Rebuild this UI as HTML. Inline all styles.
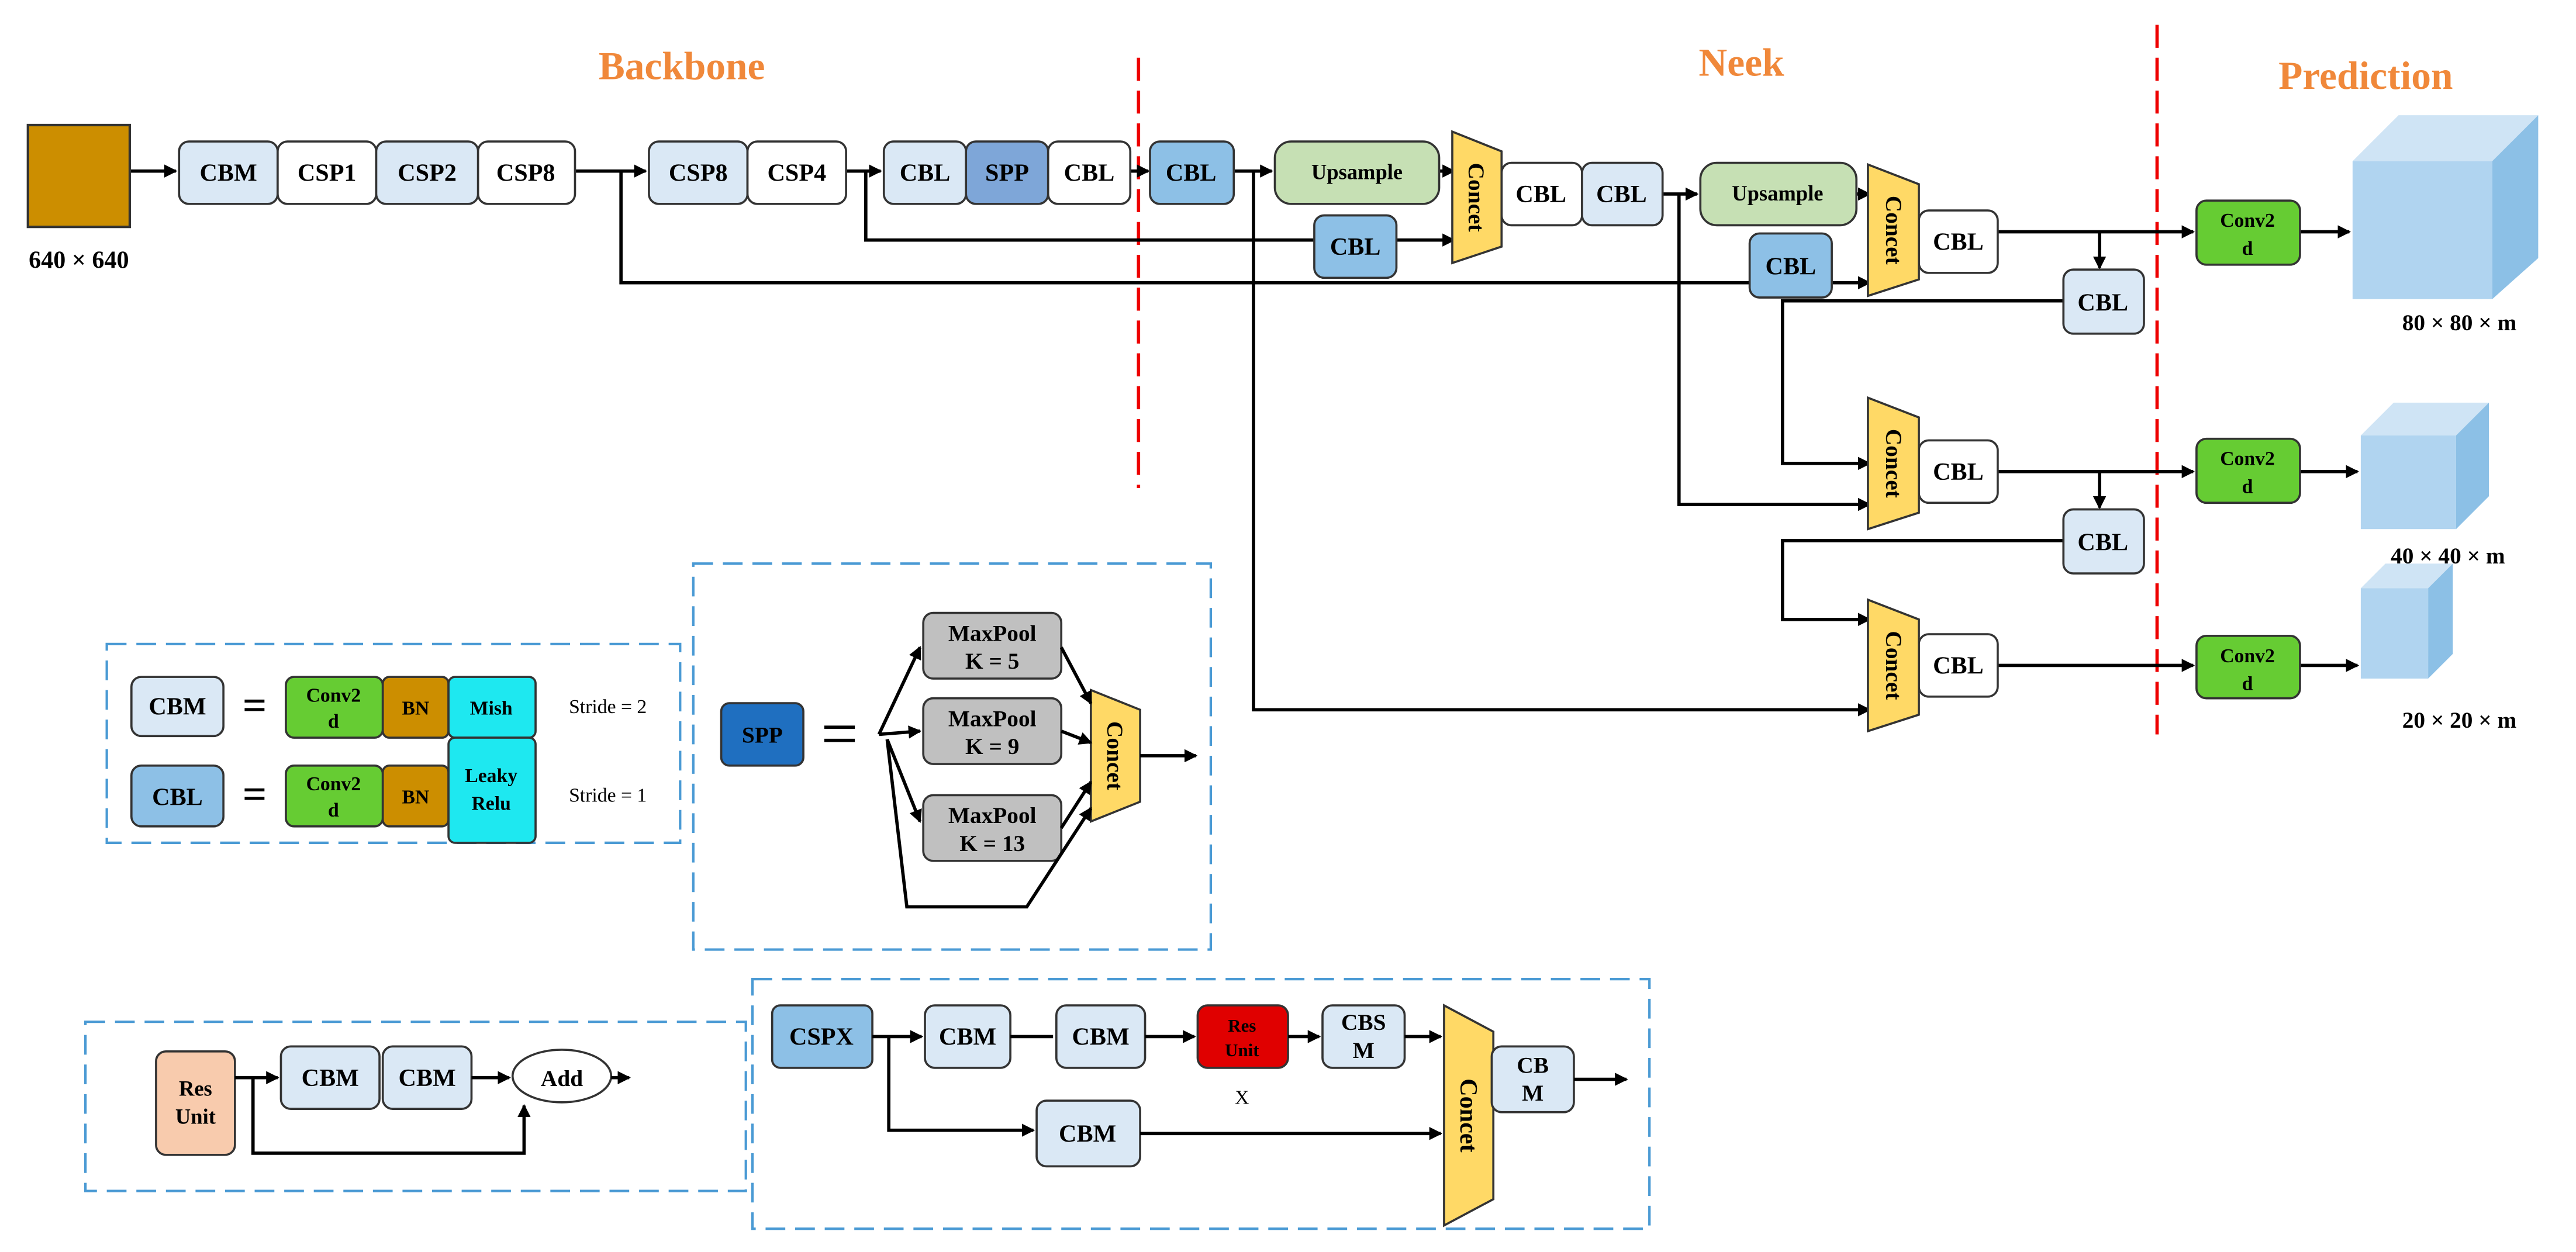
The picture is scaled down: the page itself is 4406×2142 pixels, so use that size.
<!DOCTYPE html>
<html><head><meta charset="utf-8"><style>html,body{margin:0;padding:0;background:#fff}svg{display:block}</style></head>
<body>
<svg width="4406" height="2142" viewBox="0 0 1568 762" xmlns="http://www.w3.org/2000/svg" font-family="Liberation Serif, serif" font-weight="bold">
<defs>
<marker id="a" markerWidth="8" markerHeight="8" refX="7" refY="4" orient="auto" markerUnits="userSpaceOnUse"><path d="M0,0 L8,4 L0,8 z" fill="#000"/></marker>
</defs>
<rect width="1568" height="762" fill="#fff"/>
<g font-size="24" fill="#f0883a" text-anchor="middle">
<text x="415" y="48">Backbone</text><text x="1060" y="46">Neek</text><text x="1440" y="54">Prediction</text></g>
<g stroke="#e00" stroke-width="2" stroke-dasharray="14,6"><line x1="693" y1="35" x2="693" y2="297"/><line x1="1313" y1="15" x2="1313" y2="447"/></g>

<g stroke="#000" stroke-width="2" fill="none">
<line x1="79" y1="104" x2="107" y2="104" marker-end="url(#a)"/>
<line x1="350" y1="104" x2="393" y2="104" marker-end="url(#a)"/>
<line x1="515" y1="104" x2="536" y2="104" marker-end="url(#a)"/>
<line x1="688" y1="104" x2="699" y2="104" marker-end="url(#a)"/>
<line x1="751" y1="104" x2="774" y2="104" marker-end="url(#a)"/>
<line x1="876" y1="104" x2="885" y2="104" marker-end="url(#a)"/>
<polyline points="527,104 527,146 800,146"/>
<line x1="850" y1="146" x2="885" y2="146" marker-end="url(#a)"/>
<polyline points="378,104 378,172 1065,172"/>
<line x1="1115" y1="172" x2="1138" y2="172" marker-end="url(#a)"/>
<polyline points="763,104 763,432 1138,432" marker-end="url(#a)"/>
<line x1="1012" y1="118" x2="1033" y2="118" marker-end="url(#a)"/>
<line x1="1130" y1="118" x2="1138" y2="118" marker-end="url(#a)"/>
<polyline points="1022,118 1022,307 1138,307" marker-end="url(#a)"/>
<line x1="1216" y1="141" x2="1335" y2="141" marker-end="url(#a)"/>
<line x1="1278" y1="141" x2="1278" y2="163" marker-end="url(#a)"/>
<polyline points="1256,183 1085,183 1085,282 1138,282" marker-end="url(#a)"/>
<line x1="1216" y1="287" x2="1335" y2="287" marker-end="url(#a)"/>
<line x1="1278" y1="287" x2="1278" y2="309" marker-end="url(#a)"/>
<polyline points="1256,329 1085,329 1085,377 1138,377" marker-end="url(#a)"/>
<line x1="1216" y1="405" x2="1335" y2="405" marker-end="url(#a)"/>
<line x1="1400" y1="141" x2="1430" y2="141" marker-end="url(#a)"/>
<line x1="1400" y1="287" x2="1435" y2="287" marker-end="url(#a)"/>
<line x1="1400" y1="405" x2="1435" y2="405" marker-end="url(#a)"/>
</g>

<rect x="17" y="76" width="62" height="62" fill="#cc8e00" stroke="#333" stroke-width="1.5"/>
<text x="48" y="163" font-size="15" text-anchor="middle">640 × 640</text>

<g stroke="#333" stroke-width="1.3" font-size="15" text-anchor="middle">
<rect x="109" y="86" width="60" height="38" rx="6" fill="#dae8f5"/>
<rect x="169" y="86" width="60" height="38" rx="6" fill="#fff"/>
<rect x="229" y="86" width="62" height="38" rx="6" fill="#dae8f5"/>
<rect x="291" y="86" width="59" height="38" rx="6" fill="#fff"/>
<rect x="395" y="86" width="60" height="38" rx="6" fill="#dae8f5"/>
<rect x="455" y="86" width="60" height="38" rx="6" fill="#fff"/>
<rect x="538" y="86" width="50" height="38" rx="6" fill="#dae8f5"/>
<rect x="588" y="86" width="50" height="38" rx="6" fill="#7ea6d8"/>
<rect x="638" y="86" width="50" height="38" rx="6" fill="#fff"/>
<rect x="700" y="86" width="51" height="38" rx="6" fill="#8dc0e6"/>
<rect x="776" y="86" width="100" height="38" rx="10" fill="#c6e0b4"/>
<rect x="800" y="131" width="50" height="38" rx="6" fill="#8dc0e6"/>
<rect x="914" y="99" width="49" height="38" rx="6" fill="#fff"/>
<rect x="963" y="99" width="49" height="38" rx="6" fill="#dae8f5"/>
<rect x="1035" y="99" width="95" height="38" rx="10" fill="#c6e0b4"/>
<rect x="1065" y="142" width="50" height="39" rx="6" fill="#8dc0e6"/>
<rect x="1168" y="128" width="48" height="38" rx="6" fill="#fff"/>
<rect x="1256" y="164" width="49" height="39" rx="6" fill="#dae8f5"/>
<rect x="1168" y="268" width="48" height="38" rx="6" fill="#fff"/>
<rect x="1256" y="310" width="49" height="39" rx="6" fill="#dae8f5"/>
<rect x="1168" y="386" width="48" height="38" rx="6" fill="#fff"/>
<rect x="1337" y="122" width="63" height="39" rx="6" fill="#66cc33"/>
<rect x="1337" y="267" width="63" height="39" rx="6" fill="#66cc33"/>
<rect x="1337" y="387" width="63" height="38" rx="6" fill="#66cc33"/>
<polygon points="884,80 914,92 914,150 884,160" fill="#ffd966"/>
<polygon points="1137,100 1168,112 1168,170 1137,180" fill="#ffd966"/>
<polygon points="1137,242 1168,254 1168,312 1137,322" fill="#ffd966"/>
<polygon points="1137,365 1168,377 1168,435 1137,445" fill="#ffd966"/>
</g>
<g font-size="15" text-anchor="middle">
<text x="139" y="110">CBM</text><text x="199" y="110">CSP1</text><text x="260" y="110">CSP2</text><text x="320" y="110">CSP8</text>
<text x="425" y="110">CSP8</text><text x="485" y="110">CSP4</text>
<text x="563" y="110">CBL</text><text x="613" y="110">SPP</text><text x="663" y="110">CBL</text><text x="725" y="110">CBL</text>
<text x="826" y="109" font-size="13">Upsample</text><text x="825" y="155">CBL</text>
<text x="938" y="123">CBL</text><text x="987" y="123">CBL</text>
<text x="1082" y="122" font-size="13">Upsample</text><text x="1090" y="167">CBL</text>
<text x="1192" y="152">CBL</text><text x="1280" y="189">CBL</text>
<text x="1192" y="292">CBL</text><text x="1280" y="335">CBL</text>
<text x="1192" y="410">CBL</text>
<g font-size="12"><text x="1368" y="138">Conv2</text><text x="1368" y="155">d</text>
<text x="1368" y="283">Conv2</text><text x="1368" y="300">d</text>
<text x="1368" y="403">Conv2</text><text x="1368" y="420">d</text></g>
<g font-size="14"><text transform="translate(894,120) rotate(90)">Concet</text>
<text transform="translate(1148,140) rotate(90)">Concet</text>
<text transform="translate(1148,282) rotate(90)">Concet</text>
<text transform="translate(1148,405) rotate(90)">Concet</text></g>
</g>

<g>
<polygon points="1432,98 1460,70 1545,70 1517,98" fill="#cfe4f5"/>
<polygon points="1517,98 1545,70 1545,157 1517,182" fill="#8cc0e6"/>
<rect x="1432" y="98" width="85" height="84" fill="#b0d4f0"/>
<polygon points="1437,265 1457,245 1515,245 1495,265" fill="#cfe4f5"/>
<polygon points="1495,265 1515,245 1515,302 1495,322" fill="#8cc0e6"/>
<rect x="1437" y="265" width="58" height="57" fill="#b0d4f0"/>
<polygon points="1437,358 1452,343 1493,343 1478,358" fill="#cfe4f5"/>
<polygon points="1478,358 1493,343 1493,398 1478,413" fill="#8cc0e6"/>
<rect x="1437" y="358" width="41" height="55" fill="#b0d4f0"/>
</g>
<g font-size="14" text-anchor="middle"><text x="1497" y="201">80 × 80 × m</text><text x="1490" y="343">40 × 40 × m</text><text x="1497" y="443">20 × 20 × m</text></g>

<g fill="none" stroke="#4a9ad4" stroke-width="1.5" stroke-dasharray="12,6">
<rect x="65" y="392" width="349" height="121"/>
<rect x="422" y="343" width="315" height="235"/>
<rect x="52" y="622" width="402" height="103"/>
<rect x="458" y="596" width="546" height="152"/>
</g>
<g stroke="#333" stroke-width="1.3">
<rect x="80" y="412" width="56" height="36" rx="6" fill="#dae8f5"/>
<rect x="174" y="412" width="59" height="37" rx="5" fill="#66cc33"/>
<rect x="233" y="412" width="40" height="37" rx="4" fill="#cc8e00"/>
<rect x="273" y="412" width="53" height="37" rx="4" fill="#1ee8f0"/>
<rect x="80" y="466" width="56" height="37" rx="6" fill="#8dc0e6"/>
<rect x="174" y="466" width="59" height="37" rx="5" fill="#66cc33"/>
<rect x="233" y="466" width="40" height="37" rx="4" fill="#cc8e00"/>
<rect x="273" y="449" width="53" height="64" rx="4" fill="#1ee8f0"/>
<rect x="439" y="428" width="50" height="38" rx="5" fill="#1f6fc0"/>
<rect x="562" y="373" width="84" height="40" rx="6" fill="#c0c0c0"/>
<rect x="562" y="425" width="84" height="40" rx="6" fill="#c0c0c0"/>
<rect x="562" y="484" width="84" height="40" rx="6" fill="#c0c0c0"/>
<polygon points="664,420 694,432 694,488 664,500" fill="#ffd966"/>
<rect x="95" y="640" width="48" height="63" rx="6" fill="#f8cbad"/>
<rect x="171" y="637" width="60" height="38" rx="6" fill="#dae8f5"/>
<rect x="233" y="637" width="54" height="38" rx="6" fill="#dae8f5"/>
<ellipse cx="342" cy="655" rx="30" ry="16" fill="#fff"/>
<rect x="470" y="612" width="61" height="38" rx="5" fill="#8dc0e6"/>
<rect x="563" y="612" width="52" height="38" rx="6" fill="#dae8f5"/>
<rect x="643" y="612" width="54" height="38" rx="6" fill="#dae8f5"/>
<rect x="729" y="612" width="55" height="38" rx="6" fill="#e00000"/>
<rect x="805" y="612" width="50" height="38" rx="6" fill="#dae8f5"/>
<polygon points="879,612 909,628 909,730 879,746" fill="#ffd966"/>
<rect x="908" y="637" width="50" height="40" rx="6" fill="#dae8f5"/>
<rect x="631" y="670" width="63" height="40" rx="6" fill="#dae8f5"/>
</g>
<g stroke="#000" stroke-width="2" fill="none">
<line x1="535" y1="447" x2="560" y2="394" marker-end="url(#a)"/>
<line x1="535" y1="447" x2="560" y2="445" marker-end="url(#a)"/>
<line x1="540" y1="450" x2="560" y2="500" marker-end="url(#a)"/>
<polyline points="540,450 552,552 625,552 664,492" marker-end="url(#a)"/>
<line x1="646" y1="394" x2="664" y2="428" marker-end="url(#a)"/>
<line x1="646" y1="445" x2="664" y2="452" marker-end="url(#a)"/>
<line x1="646" y1="504" x2="664" y2="476" marker-end="url(#a)"/>
<line x1="694" y1="460" x2="728" y2="460" marker-end="url(#a)"/>
<line x1="143" y1="656" x2="169" y2="656" marker-end="url(#a)"/>
<line x1="287" y1="656" x2="310" y2="656" marker-end="url(#a)"/>
<line x1="372" y1="656" x2="383" y2="656" marker-end="url(#a)"/>
<polyline points="154,656 154,702 319,702 319,673" marker-end="url(#a)"/>
<line x1="531" y1="631" x2="561" y2="631" marker-end="url(#a)"/>
<line x1="615" y1="631" x2="641" y2="631"/>
<line x1="697" y1="631" x2="727" y2="631" marker-end="url(#a)"/>
<line x1="784" y1="631" x2="803" y2="631" marker-end="url(#a)"/>
<line x1="855" y1="631" x2="877" y2="631" marker-end="url(#a)"/>
<line x1="958" y1="657" x2="990" y2="657" marker-end="url(#a)"/>
<polyline points="541,631 541,688 629,688" marker-end="url(#a)"/>
<line x1="694" y1="690" x2="877" y2="690" marker-end="url(#a)"/>
</g>
<g font-size="15" text-anchor="middle">
<text x="108" y="435">CBM</text><text x="155" y="438" font-size="26">=</text>
<text x="108" y="490">CBL</text><text x="155" y="492" font-size="26">=</text>
<g font-size="12"><text x="203" y="427">Conv2</text><text x="203" y="443">d</text>
<text x="203" y="481">Conv2</text><text x="203" y="497">d</text>
<text x="253" y="435">BN</text><text x="253" y="489">BN</text>
<text x="299" y="435">Mish</text><text x="299" y="476">Leaky</text><text x="299" y="493">Relu</text></g>
<g font-size="12" font-weight="normal"><text x="370" y="434">Stride = 2</text><text x="370" y="488">Stride = 1</text></g>
<text x="464" y="452" font-size="14">SPP</text>
<text x="511" y="460" font-size="40" font-weight="normal">=</text>
<g font-size="14"><text x="604" y="390">MaxPool</text><text x="604" y="407">K = 5</text>
<text x="604" y="442">MaxPool</text><text x="604" y="459">K = 9</text>
<text x="604" y="501">MaxPool</text><text x="604" y="518">K = 13</text>
<text transform="translate(674,460) rotate(90)" x="0" y="0">Concet</text></g>
<g font-size="13"><text x="119" y="667">Res</text><text x="119" y="684">Unit</text></g>
<text x="201" y="661">CBM</text><text x="260" y="661">CBM</text><text x="342" y="661" font-size="14">Add</text>
<text x="500" y="636">CSPX</text><text x="589" y="636">CBM</text><text x="670" y="636">CBM</text>
<g font-size="11"><text x="756" y="628">Res</text><text x="756" y="643">Unit</text></g>
<text x="756" y="672" font-size="12" font-weight="normal">X</text>
<g font-size="14"><text x="830" y="627">CBS</text><text x="830" y="644">M</text>
<text x="933" y="653">CB</text><text x="933" y="670">M</text>
<text transform="translate(889,679) rotate(90)" x="0" y="0" font-size="15">Concet</text></g>
<text x="662" y="695">CBM</text>
</g>
</svg>
</body></html>
